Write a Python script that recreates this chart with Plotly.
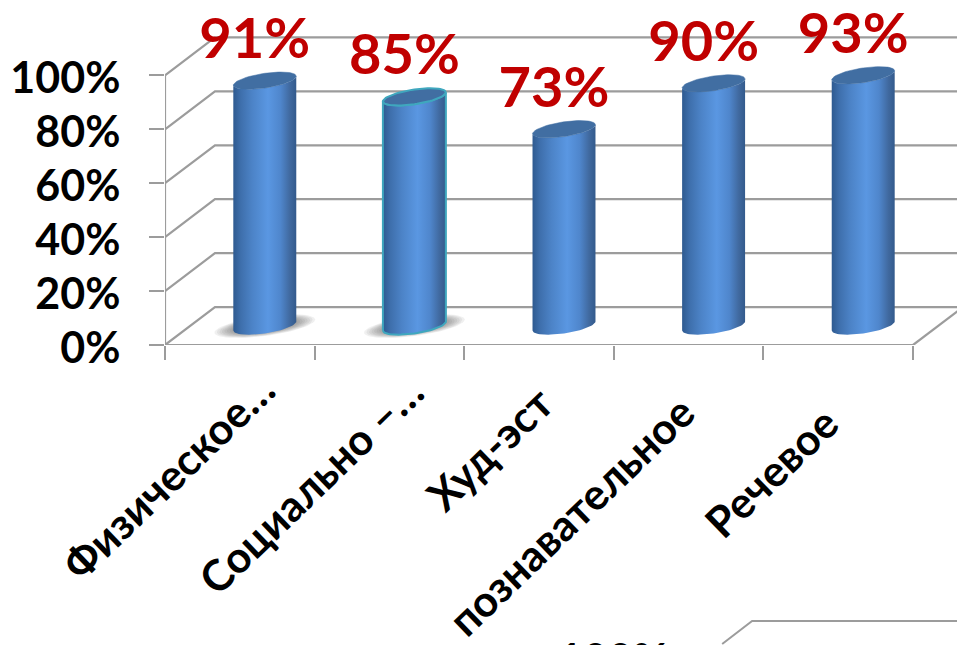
import numpy as np
import plotly.graph_objects as go

categories = ["Физическое…", "Социально –…", "Худ-эст", "познавательное", "Речевое"]
values = [91, 85, 73, 90, 93]
y_ticks = [0, 20, 40, 60, 80, 100]

# page geometry: the plot box spans from the axes to the top/right page edges
W, H = 957, 645
L, R0, T0, B = 164.5, 913.0, 75.5, 345.5
px_x = (R0 - L) / 5      # pixels per category
px_y = (B - T0) / 100    # pixels per percent
DX, DY = 50 / px_x, 38 / px_y   # depth of the 3-D box, data units
GREY = "#9C9C9C"
FONT = "Lato"

A = 31.5 / px_x          # cylinder half width
BB = 7.4 / px_y          # ellipse half height
K = 4.5 / px_y           # ellipse tilt
t = np.linspace(0, 2 * np.pi, 73)

# where each rotated category label is centred, relative to its category (pixels)
label_dx = [-72, -79, -50, -118, -68]
label_dy = [131, 139, 103, 170, 127]

fig = go.Figure()

# back wall, side wall and floor of the 3-D box
gx, gy = [], []
for v in y_ticks:
    gx += [-0.5, -0.5 + DX, 4.5 + DX, None]
    gy += [v, v + DY, v + DY, None]
gx += [4.5, 4.5 + DX, None]
gy += [0, DY, None]
fig.add_trace(go.Scatter(x=gx, y=gy, mode="lines", hoverinfo="skip",
                         line=dict(color=GREY, width=2.2), showlegend=False))
# front axis lines
fig.add_trace(go.Scatter(x=[-0.5, -0.5, 4.5], y=[100, 0, 0], mode="lines", hoverinfo="skip",
                         line=dict(color=GREY, width=2.2), showlegend=False, cliponaxis=False))

for i, v in enumerate(values):
    cx = i + DX / 2
    base = DY / 2
    top = v + DY / 2
    if i < 2:
        # soft floor shadow
        for scale in np.linspace(1.0, 0.55, 10):
            sa, sb, sk = A * 1.6 * scale, BB * 1.35 * scale, K * 1.45 * scale
            fig.add_trace(go.Scatter(
                x=cx + sa * np.cos(t), y=base + sb * np.sin(t) + sk * np.cos(t),
                mode="lines", fill="toself", fillcolor="rgba(70,70,70,0.08)",
                line=dict(width=0), hoverinfo="skip", showlegend=False))
    # cylinder body: front arc of the base, right edge, front arc of the top
    arc = np.linspace(np.pi, 2 * np.pi, 37)
    x_low = cx + A * np.cos(arc)
    y_low = base + BB * np.sin(arc) + K * np.cos(arc)
    x_up = cx + A * np.cos(arc[::-1])
    y_up = top + BB * np.sin(arc[::-1]) + K * np.cos(arc[::-1])
    edge = "#3FA7BE" if i == 1 else "rgba(0,0,0,0)"
    fig.add_trace(go.Scatter(
        x=np.r_[x_low, x_up, x_low[0]], y=np.r_[y_low, y_up, y_low[0]],
        mode="lines", fill="toself", hoverinfo="skip", showlegend=False,
        line=dict(color=edge, width=2),
        fillgradient=dict(type="horizontal", colorscale=[
            [0, "#2E5A90"], [0.12, "#3E6FAC"], [0.3, "#4C83C7"], [0.55, "#5A97E2"],
            [0.75, "#4F86CC"], [0.9, "#40699F"], [1, "#335A8C"]])))
    fig.add_trace(go.Scatter(
        x=cx + A * np.cos(t), y=top + BB * np.sin(t) + K * np.cos(t),
        mode="lines", fill="toself", fillcolor="#416EA2",
        hoverinfo="skip", showlegend=False,
        line=dict(color=edge if i == 1 else "#416EA2", width=2 if i == 1 else 0.5)))

# value labels
fig.add_trace(go.Scatter(
    x=[i + 15 / px_x for i in range(5)], y=[v + 55.5 / px_y for v in values],
    mode="text", text=[f"{v}%" for v in values], textposition="middle center",
    hoverinfo="skip", showlegend=False,
    textfont=dict(family=FONT, size=56, color="#C00000", weight="bold")))

# rotated category labels
annotations = [
    dict(text=c, xref="x", yref="y", x=i, y=0, xshift=label_dx[i], yshift=-label_dy[i],
         textangle=-44, showarrow=False, xanchor="center", yanchor="middle",
         font=dict(family=FONT, size=43, color="black", weight="bold"))
    for i, c in enumerate(categories)
]
# the next chart on the slide, cut off by the bottom edge of the picture
annotations.append(dict(text="100%", xref="paper", yref="paper", x=0.6379, y=-0.908,
                        xanchor="right", yanchor="middle", showarrow=False,
                        font=dict(family=FONT, size=43, color="black", weight="bold")))

fig.update_layout(
    width=W, height=H, autosize=False, showlegend=False,
    margin=dict(l=L, r=0, t=0, b=H - B, pad=0, autoexpand=False),
    paper_bgcolor="white", plot_bgcolor="white",
    xaxis=dict(range=[-0.5, 4.5 + (W - R0) / px_x], tickmode="array", tickvals=list(range(5)),
               ticktext=categories, ticks="", showticklabels=False, showgrid=False, zeroline=False,
               showline=False,
               minor=dict(tickmode="array", tickvals=[-0.5, 0.5, 1.5, 2.5, 3.5, 4.5],
                          ticks="outside", ticklen=14, tickwidth=2, tickcolor=GREY, showgrid=False)),
    yaxis=dict(range=[0, B / px_y], tickmode="array", tickvals=y_ticks, ticktext=[f"{v}%" for v in y_ticks],
               ticks="outside", ticklen=15, tickwidth=2, tickcolor=GREY, showgrid=False, zeroline=False,
               showline=False, ticklabelstandoff=20, ticklabelshift=3,
               tickfont=dict(family=FONT, size=43, color="black", weight="bold")),
    shapes=[dict(type="path", xref="paper", yref="paper",
                 path="M 0.7035 -0.8668 L 0.7413 -0.800 L 1.0 -0.800",
                 line=dict(color=GREY, width=2))],
    annotations=annotations,
)
fig.write_html("out.html", post_script="document.body.style.margin='0';",
               config=dict(displayModeBar=False))
